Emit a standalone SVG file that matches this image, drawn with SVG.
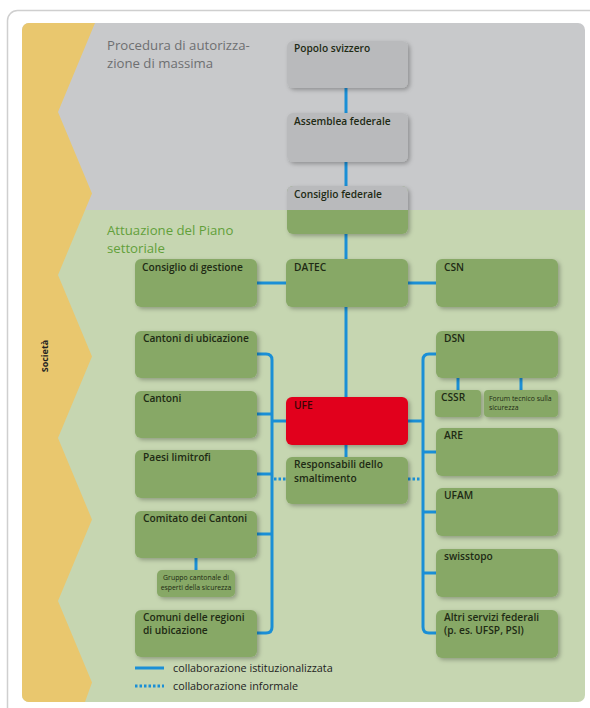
<svg xmlns="http://www.w3.org/2000/svg" width="590" height="708" viewBox="0 0 590 708">
<defs>
  <clipPath id="panel"><rect x="22" y="23" width="563" height="679" rx="7"/></clipPath>
  <filter id="sh" x="-10%" y="-10%" width="130%" height="140%">
    <feDropShadow dx="2" dy="2" stdDeviation="2" flood-color="#000" flood-opacity="0.28"/>
  </filter>
  <style>
    .n{fill:#87A866;filter:url(#sh)}
    .g{fill:#B9BABC;filter:url(#sh)}
    .r{fill:#E1001A;filter:url(#sh)}
    .t{font-family:"Open Sans","Liberation Sans",sans-serif;font-weight:600;font-size:10.2px;fill:#1e2a14}
    .ts{font-family:"Open Sans","Liberation Sans",sans-serif;font-size:6.9px;fill:#1e2a14}
    .c{fill:none;stroke:#1A8FD6;stroke-width:3}
    .d{fill:none;stroke:#1A8FD6;stroke-width:3;stroke-dasharray:2.5 2}
    .h{font-family:"Open Sans","Liberation Sans",sans-serif;font-size:13.2px}
    .lg{font-family:"Open Sans","Liberation Sans",sans-serif;font-size:10.8px;fill:#222}
  </style>
</defs>
<rect x="7.5" y="10.5" width="600" height="710" rx="10" fill="#fff" stroke="#cfcfcf" stroke-width="1.5"/>
<g id="background" clip-path="url(#panel)">
  <rect x="22" y="23" width="563" height="187" fill="#C8C9CB"/>
  <rect x="22" y="210" width="563" height="492" fill="#C6D6B1"/>
  <polygon points="22,23 95,23 58,112 92,193.5 58,275 92,356.5 58,438 92,519.5 58,601 92,682.5 85,702 22,702" fill="#E9C76E"/>
</g>
<text x="48" y="356" transform="rotate(-90 48 356)" text-anchor="middle" font-family="Open Sans, Liberation Sans, sans-serif" font-weight="700" font-size="9px" fill="#222">Società</text>
<text class="h" fill="#6E6F71" x="107" y="50">Procedura di autorizza-</text>
<text class="h" fill="#6E6F71" x="107" y="68">zione di massima</text>
<text class="h" fill="#62A03A" x="107" y="235">Attuazione del Piano</text>
<text class="h" fill="#62A03A" x="107" y="253">settoriale</text>

<g id="connectors">
  <path class="c" d="M346 88V113M346 162V186M346 234V259M257 283H286M408 283H436M346 307V397M346 445V457"/>
  <path class="c" d="M257 354H266Q272 354 272 360V627Q272 633 266 633H257M257 414H272M257 474H272M257 534H272M272 421H286"/>
  <path class="c" d="M436 354H429Q423 354 423 360V627Q423 633 429 633H436M408 421H423M423 452H436M423 512H436M423 573H436"/>
  <path class="c" d="M458 378V390M521 378V390M196 558V570"/>
  <path class="d" d="M274 479H286M408 479H421"/>
</g>

<g id="popolo"><rect class="g" x="287" y="41" width="121" height="47" rx="6"/><text class="t" x="294" y="52">Popolo svizzero</text></g>
<g id="assemblea"><rect class="g" x="287" y="113" width="121" height="49" rx="6"/><text class="t" x="294" y="125">Assemblea federale</text></g>
<g id="consiglio-federale"><rect class="n" x="287" y="186" width="121" height="48" rx="6"/><path d="M287 210V192Q287 186 293 186H402Q408 186 408 192V210Z" fill="#B9BABC"/><text class="t" x="294" y="198">Consiglio federale</text></g>

<g id="consiglio-gestione"><rect class="n" x="135" y="259" width="122" height="48" rx="6"/><text class="t" x="142" y="271">Consiglio di gestione</text></g>
<g id="datec"><rect class="n" x="286" y="259" width="122" height="48" rx="6"/><text class="t" x="294" y="271">DATEC</text></g>
<g id="csn"><rect class="n" x="436" y="259" width="122" height="48" rx="6"/><text class="t" x="444" y="271">CSN</text></g>

<g id="cantoni-ubicazione"><rect class="n" x="135" y="331" width="122" height="47" rx="6"/><text class="t" x="143" y="342">Cantoni di ubicazione</text></g>
<g id="cantoni"><rect class="n" x="135" y="391" width="122" height="47" rx="6"/><text class="t" x="143" y="402">Cantoni</text></g>
<g id="paesi"><rect class="n" x="135" y="450" width="122" height="48" rx="6"/><text class="t" x="143" y="461">Paesi limitrofi</text></g>
<g id="comitato"><rect class="n" x="135" y="511" width="122" height="47" rx="6"/><text class="t" x="143" y="522">Comitato dei Cantoni</text></g>
<g id="gruppo"><rect class="n" x="157" y="570" width="78" height="27" rx="5"/><text class="ts" text-anchor="middle"><tspan x="196" y="580">Gruppo cantonale di</tspan><tspan x="196" y="590">esperti della sicurezza</tspan></text></g>
<g id="comuni"><rect class="n" x="135" y="610" width="122" height="47" rx="6"/><text class="t"><tspan x="143" y="621">Comuni delle regioni</tspan><tspan x="143" y="634">di ubicazione</tspan></text></g>

<g id="ufe"><rect class="r" x="286" y="397" width="122" height="48" rx="6"/><text class="t" x="294" y="409" style="fill:#3a0404">UFE</text></g>
<g id="responsabili"><rect class="n" x="286" y="457" width="122" height="47" rx="6"/><text class="t"><tspan x="294" y="468">Responsabili dello</tspan><tspan x="294" y="482">smaltimento</tspan></text></g>

<g id="dsn"><rect class="n" x="436" y="331" width="122" height="47" rx="6"/><text class="t" x="444" y="342">DSN</text></g>
<g id="cssr"><rect class="n" x="435" y="390" width="46" height="27" rx="4"/><text class="t" x="441" y="401">CSSR</text></g>
<g id="forum"><rect class="n" x="484" y="390" width="74" height="27" rx="4"/><text class="ts"><tspan x="489" y="401">Forum tecnico sulla</tspan><tspan x="489" y="410">sicurezza</tspan></text></g>
<g id="are"><rect class="n" x="436" y="428" width="122" height="48" rx="6"/><text class="t" x="444" y="439">ARE</text></g>
<g id="ufam"><rect class="n" x="436" y="488" width="122" height="48" rx="6"/><text class="t" x="444" y="499">UFAM</text></g>
<g id="swisstopo"><rect class="n" x="436" y="549" width="122" height="48" rx="6"/><text class="t" x="444" y="560">swisstopo</text></g>
<g id="altri"><rect class="n" x="436" y="610" width="122" height="48" rx="6"/><text class="t"><tspan x="444" y="621">Altri servizi federali</tspan><tspan x="444" y="634">(p. es. UFSP, PSI)</tspan></text></g>

<g id="legend">
  <path class="c" d="M135 668H164"/>
  <path class="d" d="M135 686H164"/>
  <text class="lg" x="173" y="672">collaborazione istituzionalizzata</text>
  <text class="lg" x="173" y="690">collaborazione informale</text>
</g>
</svg>
